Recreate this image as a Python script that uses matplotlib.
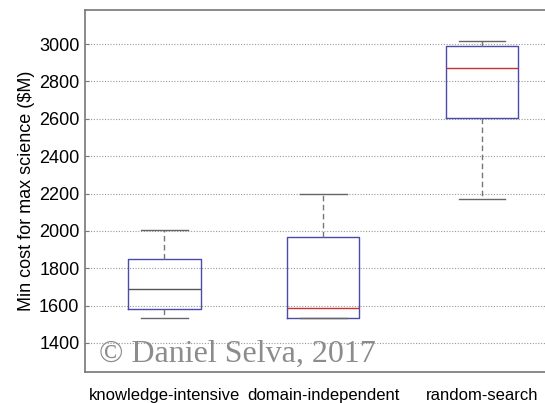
import matplotlib
matplotlib.use("Agg")
import matplotlib.pyplot as plt

# box statistics ($M)
methods = ["knowledge-intensive", "domain-independent", "random-search"]
whisker_low = [1534, 1531, 2170]
q1 = [1583, 1531, 2604]
median = [1688, 1588, 2870]
q3 = [1847, 1968, 2989]
whisker_high = [2005, 2197, 3018]
yticks = [1400, 1600, 1800, 2000, 2200, 2400, 2600, 2800, 3000]

plt.rcParams["font.family"] = ["Liberation Sans", "DejaVu Sans"]

fig = plt.figure(figsize=(5.45, 4.03), dpi=100)
ax = fig.add_axes([0.156, 0.0762, 0.875, 0.9002])

stats = []
for i, name in enumerate(methods):
    stats.append({
        "label": name,
        "whislo": whisker_low[i],
        "q1": q1[i],
        "med": median[i],
        "q3": q3[i],
        "whishi": whisker_high[i],
        "fliers": [],
    })

bp = ax.bxp(
    stats,
    positions=[1, 2, 3],
    widths=0.453,
    capwidths=0.29,
    showfliers=False,
    boxprops=dict(color="#4b4bab", linewidth=1.0),
    whiskerprops=dict(color="#777777", linewidth=1.0, linestyle=(0, (4, 2.5))),
    capprops=dict(color="#666666", linewidth=1.0),
    medianprops=dict(color="#c83232", linewidth=1.0),
    zorder=3,
)
# first median shows up dark in the reference
bp["medians"][0].set_color("#555555")

ax.set_xlim(0.5, 3.5)
ax.set_ylim(1243, 3185)
ax.set_yticks(yticks)
ax.set_yticklabels([str(t) for t in yticks], fontsize=13)
ax.set_xticks([1, 2, 3])
ax.set_xticklabels(methods, fontsize=12)
ax.tick_params(axis="x", length=0, pad=11)
ax.tick_params(axis="y", direction="in", length=3, color="#777777", pad=4)

ax.yaxis.grid(True, linestyle=(0, (1, 1.5)), color="#999999", linewidth=0.8)
ax.xaxis.grid(False)
ax.set_axisbelow(True)

for side in ["left", "top", "bottom", "right"]:
    ax.spines[side].set_color("#777777")
    ax.spines[side].set_linewidth(1.2)

ax.set_ylabel("Min cost for max science ($M)", fontsize=13, labelpad=3)

ax.text(0.03, 0.03, "\u00a9 Daniel Selva, 2017", transform=ax.transAxes,
        family=["Liberation Serif", "DejaVu Serif"], fontsize=23,
        color="#8c8c8c", ha="left", va="baseline", zorder=4)

fig.savefig("out.png", dpi=100)
